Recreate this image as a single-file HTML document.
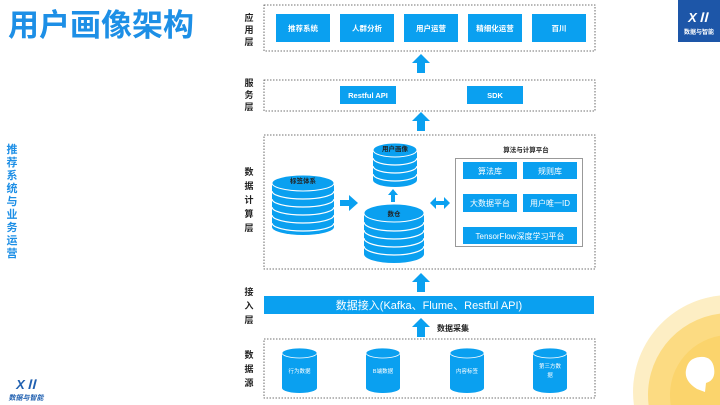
<!DOCTYPE html>
<html><head><meta charset="utf-8"><style>
html,body{margin:0;width:720px;height:405px;overflow:hidden;background:#fff;font-family:"Liberation Sans","Noto Sans CJK SC",sans-serif}
svg{display:block;overflow:hidden}
</style></head><body>
<svg width="720" height="405" viewBox="0 0 720 405" xmlns="http://www.w3.org/2000/svg" font-family="Liberation Sans, Noto Sans CJK SC, sans-serif">
<path d="M633.9,405 A97,97 0 0 1 720,295.5 L720,405 Z" fill="#fdeec4"/>
<path d="M648.6,405 A82,82 0 0 1 720,313.6 L720,405 Z" fill="#fcdb82"/>
<path d="M670.8,405 A60,60 0 0 1 720,335.8 L720,405 Z" fill="#fbd46c"/>
<path d="M697,389 Q684,381 686,370 Q688,358 700,357 Q712,356 714,368 Q716,380 706,383 L705,392 Z" fill="#fff"/>
<rect x="678" y="0" width="42" height="42" fill="#1d56a8"/>
<text x="699" y="22" font-size="13" font-style="italic" font-weight="bold" fill="#fff" text-anchor="middle">XⅡ</text>
<text x="699" y="34" font-size="6" fill="#fff" text-anchor="middle" font-weight="bold">数据与智能</text>
<text x="8" y="36" font-size="31" font-weight="bold" fill="#1d8fe6">用户画像架构</text>
<g font-size="11" fill="#1d8fe6" font-weight="bold" text-anchor="middle">
<text x="12" y="153">推</text><text x="12" y="166">荐</text><text x="12" y="179">系</text><text x="12" y="192">统</text><text x="12" y="205">与</text><text x="12" y="218">业</text><text x="12" y="231">务</text><text x="12" y="244">运</text><text x="12" y="257">营</text>
</g>
<text x="27" y="389" font-size="13" font-style="italic" font-weight="bold" fill="#2060b0" text-anchor="middle">XⅡ</text>
<text x="26" y="400" font-size="7" font-style="italic" font-weight="bold" fill="#2060b0" text-anchor="middle">数据与智能</text>
<g font-size="9" font-weight="bold" fill="#222" text-anchor="middle">
<text x="249" y="21">应</text><text x="249" y="33">用</text><text x="249" y="45">层</text>
<text x="249" y="86">服</text><text x="249" y="98">务</text><text x="249" y="110">层</text>
<text x="249" y="175">数</text><text x="249" y="189">据</text><text x="249" y="203">计</text><text x="249" y="217">算</text><text x="249" y="231">层</text>
<text x="249" y="295">接</text><text x="249" y="309">入</text><text x="249" y="323">层</text>
<text x="249" y="358">数</text><text x="249" y="372">据</text><text x="249" y="386">源</text>
</g>
<g fill="none" stroke="#444" stroke-width="0.8" stroke-dasharray="1.5,1.5">
<rect x="264" y="5" width="331" height="46"/>
<rect x="264" y="80" width="331" height="31"/>
<rect x="264" y="135" width="331" height="134"/>
<rect x="264" y="339" width="331" height="59"/>
</g>
<g fill="#0aa0f0">
<rect x="276" y="14" width="54" height="28"/><rect x="340" y="14" width="54" height="28"/><rect x="404" y="14" width="54" height="28"/><rect x="468" y="14" width="54" height="28"/><rect x="532" y="14" width="54" height="28"/>
<rect x="340" y="86" width="56" height="18"/><rect x="467" y="86" width="56" height="18"/>
</g>
<g font-size="7.5" fill="#fff" font-weight="bold" text-anchor="middle">
<text x="303" y="31">推荐系统</text><text x="367" y="31">人群分析</text><text x="431" y="31">用户运营</text><text x="495" y="31">精细化运营</text><text x="559" y="31">百川</text>
<text x="368" y="98">Restful API</text><text x="495" y="98">SDK</text>
</g>
<g fill="#0aa0f0">
<path d="M417,73 h8 v-10 h5 l-9,-9 l-9,9 h5 z"/>
<path d="M417,131 h8 v-10 h5 l-9,-9 l-9,9 h5 z"/>
<path d="M417,292 h8 v-10 h5 l-9,-9 l-9,9 h5 z"/>
<path d="M417,337 h8 v-10 h5 l-9,-9 l-9,9 h5 z"/>
<path d="M340,200 h9 v-5 l9,8 l-9,8 v-5 h-9 z"/>
<path d="M391,202 h4 v-7 h3 l-5,-6 l-5,6 h3 z"/>
<path d="M430,203 l6,-6 v4 h8 v-4 l6,6 l-6,6 v-4 h-8 v4 z"/>
</g>
<text x="437" y="331" font-size="8" font-weight="bold" fill="#222">数据采集</text>
<rect x="264" y="296" width="330" height="18" fill="#0aa0f0"/>
<text x="429" y="309" font-size="11" fill="#fff" text-anchor="middle">数据接入(Kafka、Flume、Restful API)</text>
<g fill="#0aa0f0">
<rect x="272" y="183" width="62" height="44"/><ellipse cx="303" cy="227" rx="31" ry="8"/>
<rect x="373" y="150" width="44" height="30"/><ellipse cx="395" cy="180" rx="22" ry="7"/>
<rect x="364" y="213" width="60" height="41"/><ellipse cx="394" cy="254" rx="30" ry="9"/>
</g>
<g fill="none" stroke="#fff" stroke-width="1.2">
<path d="M272,191 A31,8 0 0 0 334,191 M272,199 A31,8 0 0 0 334,199 M272,207 A31,8 0 0 0 334,207 M272,215 A31,8 0 0 0 334,215 M272,223 A31,8 0 0 0 334,223"/>
<path d="M373,158 A22,7 0 0 0 417,158 M373,166 A22,7 0 0 0 417,166 M373,174 A22,7 0 0 0 417,174"/>
<path d="M364,222 A30,9 0 0 0 424,222 M364,230 A30,9 0 0 0 424,230 M364,238 A30,9 0 0 0 424,238 M364,246 A30,9 0 0 0 424,246"/>
</g>
<ellipse cx="303" cy="183" rx="31" ry="8" fill="#0aa0f0" stroke="#fff" stroke-width="1"/>
<ellipse cx="395" cy="150" rx="22" ry="7" fill="#0aa0f0" stroke="#fff" stroke-width="1"/>
<ellipse cx="394" cy="213" rx="30" ry="9" fill="#0aa0f0" stroke="#fff" stroke-width="1"/>
<g font-size="6.5" fill="#222" font-weight="bold" text-anchor="middle">
<text x="303" y="183">标签体系</text><text x="395" y="151">用户画像</text><text x="394" y="216">数仓</text>
</g>
<text x="526" y="152" font-size="6.5" font-weight="bold" fill="#222" text-anchor="middle">算法与计算平台</text>
<rect x="455.5" y="158.5" width="127" height="88" fill="none" stroke="#999" stroke-width="1"/>
<g fill="#0aa0f0">
<rect x="463" y="162" width="54" height="17"/><rect x="523" y="162" width="54" height="17"/>
<rect x="463" y="194" width="54" height="18"/><rect x="523" y="194" width="54" height="18"/>
<rect x="463" y="227" width="114" height="17"/>
</g>
<g font-size="8" fill="#fff" text-anchor="middle">
<text x="490" y="174">算法库</text><text x="550" y="174">规则库</text>
<text x="490" y="206">大数据平台</text><text x="550" y="206">用户唯一ID</text>
<text x="520" y="239">TensorFlow深度学习平台</text>
</g>
<g fill="#0aa0f0">
<rect x="282" y="353" width="35" height="35"/><ellipse cx="299.5" cy="388" rx="17.5" ry="5"/>
<rect x="366" y="353" width="34" height="35"/><ellipse cx="383" cy="388" rx="17" ry="5"/>
<rect x="450" y="353" width="34" height="35"/><ellipse cx="467" cy="388" rx="17" ry="5"/>
<rect x="533" y="353" width="34" height="35"/><ellipse cx="550" cy="388" rx="17" ry="5"/>
</g>
<g fill="#0aa0f0" stroke="#fff" stroke-width="0.8">
<ellipse cx="299.5" cy="353" rx="17.5" ry="5"/><ellipse cx="383" cy="353" rx="17" ry="5"/><ellipse cx="467" cy="353" rx="17" ry="5"/><ellipse cx="550" cy="353" rx="17" ry="5"/>
</g>
<g font-size="5.5" fill="#fff" text-anchor="middle">
<text x="299.5" y="373">行为数据</text><text x="383" y="373">B端数据</text><text x="467" y="373">内容标签</text>
<text x="550" y="368">第三方数</text><text x="550" y="377">据</text>
</g>
</svg>
</body></html>
